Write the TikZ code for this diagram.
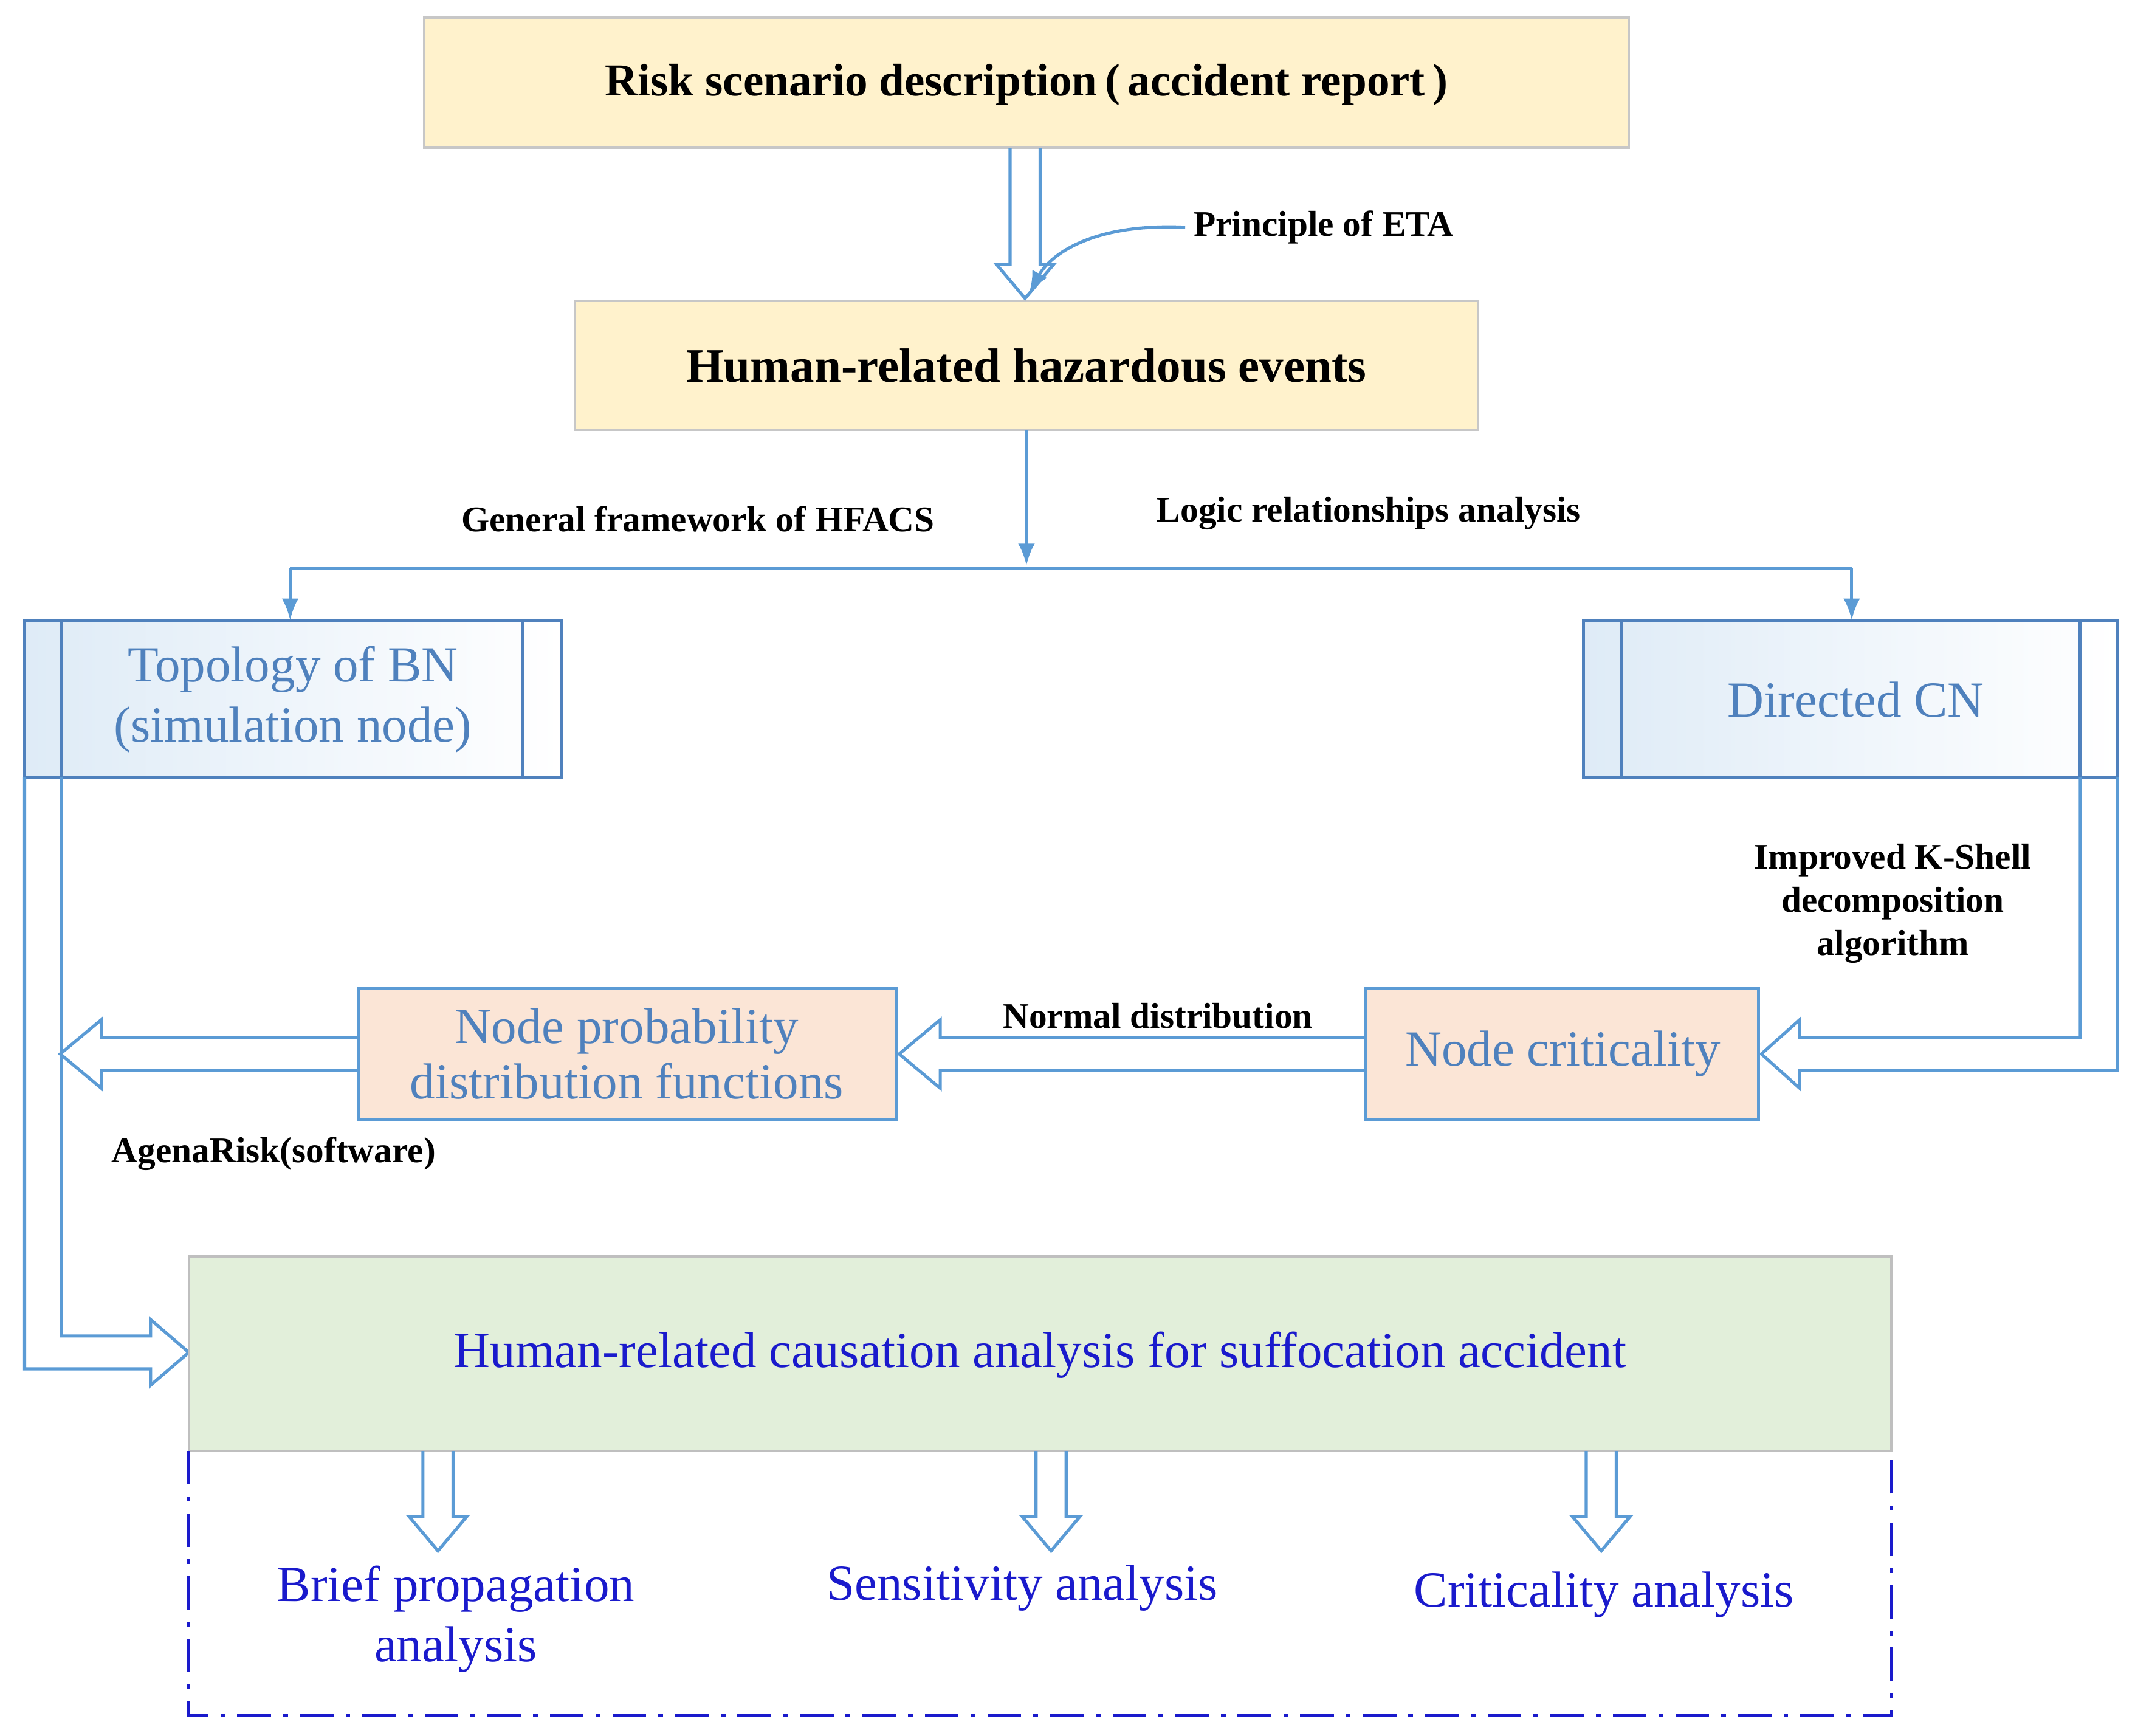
\documentclass[tikz,border=0pt]{standalone}
\usepackage{fontspec}
\setmainfont{Liberation Serif}
\usetikzlibrary{arrows.meta}
\definecolor{ab}{HTML}{5B9BD5}
\definecolor{bb}{HTML}{4A86C0}
\definecolor{tb}{HTML}{4F81BD}
\definecolor{yl}{HTML}{FFF2CC}
\definecolor{pc}{HTML}{FBE5D6}
\definecolor{gr}{HTML}{E2EFDA}
\definecolor{db}{HTML}{1A1ACC}
\newcommand\hdn[3]{\draw[harr] ({#1-11},#2) -- ({#1-11},{#3-25}) -- ({#1-21},{#3-25}) -- (#1,#3) -- ({#1+21},{#3-25}) -- ({#1+11},{#3-25}) -- ({#1+11},#2);}
\newcommand\hlf[3]{\draw[harr] (#1,{#3-12}) -- ({#2+30},{#3-12}) -- ({#2+30},{#3-25}) -- (#2,#3) -- ({#2+30},{#3+25}) -- ({#2+30},{#3+12}) -- (#1,{#3+12});}
\begin{document}
\begin{tikzpicture}[x=0.02cm,y=-0.02cm,
 harr/.style={draw=ab,line width=1.3pt,line join=miter},
 conn/.style={draw=ab,line width=1.3pt,-{Latex[length=9pt,width=7pt]}},
 ybox/.style={draw=black!22,line width=1pt,fill=yl},
 pbox/.style={draw=ab,line width=1.3pt,fill=pc},
 bbox/.style={draw=tb,line width=1.3pt,left color=ab!20,right color=white},
 lab/.style={font=\fontsize{15}{18}\selectfont\bfseries,align=center},
 btxt/.style={font=\fontsize{21}{25}\selectfont,text=tb,align=center},
 dtxt/.style={font=\fontsize{21}{25}\selectfont,text=db,align=center}]
\useasboundingbox (0,0) rectangle (1560,1268);
% top boxes
\draw[ybox] (310,13) rectangle (1190,108);
\node[font=\fontsize{19}{23}\selectfont\bfseries] (t1) at (750,62) {Risk scenario description\,(\,accident report\,)};
\draw[ybox] (420,220) rectangle (1080,314);
\node[font=\fontsize{20}{24}\selectfont\bfseries] (t2) at (750,267) {Human-related hazardous events};
\hdn{749}{108}{218}
\node[lab,anchor=west] (eta) at (866,166) {Principle of ETA};
\draw[conn] (eta.west) .. controls (800,163) and (768,185) .. (752,214);
% split
\coordinate (sp) at (750,415);
\draw[conn] (750,314) -- (750,413);
\draw[ab,line width=1.3pt] (212,415) -- (1353,415);
\draw[conn] (212,415) -- (212,453);
\draw[conn] (1353,415) -- (1353,453);
\node[lab] (hf) at (510,379) {General framework of HFACS};
\node[lab] (lr) at (1000,375) {Logic relationships analysis};
% BN, CN
\draw[bbox] (18,453) rectangle (410,568);
\draw[tb,line width=1.3pt] (45,453) -- (45,568) (382,453) -- (382,568);
\node[btxt] (bn) at (214,511) {Topology of BN\\(simulation node)};
\draw[bbox] (1157,453) rectangle (1547,568);
\draw[tb,line width=1.3pt] (1185,453) -- (1185,568) (1520,453) -- (1520,568);
\node[btxt] (cn) at (1356,511) {Directed CN};
% CN -> node criticality
\draw[harr] (1547,568) -- (1547,782) -- (1315,782) -- (1315,795) -- (1287,770) -- (1315,745) -- (1315,758) -- (1520,758) -- (1520,568);
\node[lab] (ks) at (1383,660) {Improved K-Shell\\decomposition\\algorithm};
% BN -> main
\draw[harr] (18,568) -- (18,1000) -- (110,1000) -- (110,1012) -- (138,988) -- (110,964) -- (110,976) -- (45,976) -- (45,568);
% middle boxes
\draw[pbox] (998,722) rectangle (1285,818);
\node[btxt] (nc) at (1142,770) {Node criticality};
\draw[pbox] (262,722) rectangle (655,818);
\node[btxt,font=\fontsize{21}{23}\selectfont] (np) at (458,770) {Node probability\\distribution functions};
\hlf{998}{657}{770}
\node[lab] (nd) at (846,742) {Normal distribution};
\hlf{262}{44}{770}
\node[lab] (ag) at (200,843) {AgenaRisk(software)};
% main box
\draw[draw=black!25,line width=1pt,fill=gr] (138,918) rectangle (1382,1060);
\node[dtxt] (mn) at (760,990) {Human-related causation analysis for suffocation accident};
\draw[db,line width=1.3pt,dash pattern=on 14pt off 5pt on 2pt off 5pt] (138,1060) -- (138,1253) -- (1382,1253) -- (1382,1060);
\hdn{320}{1060}{1133}
\hdn{768}{1060}{1133}
\hdn{1170}{1060}{1133}
\node[dtxt] (r1) at (333,1183) {Brief propagation\\analysis};
\node[dtxt] (r2) at (747,1160) {Sensitivity analysis};
\node[dtxt] (r3) at (1172,1165) {Criticality analysis};
\end{tikzpicture}
\end{document}
